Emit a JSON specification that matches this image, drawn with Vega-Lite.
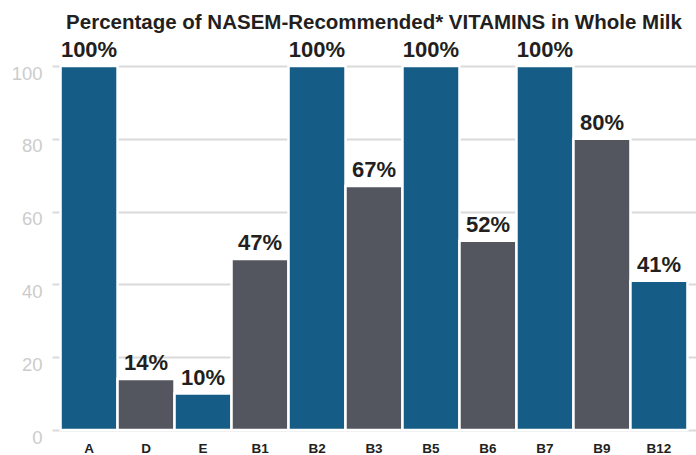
{
  "$schema": "https://vega.github.io/schema/vega-lite/v6.json",
  "autosize": "none",
  "width": 644,
  "height": 364,
  "padding": {"left": 52, "top": 66, "right": 0, "bottom": 25},
  "background": "white",
  "title": {
    "text": "Percentage of NASEM-Recommended* VITAMINS in Whole Milk",
    "font": "Liberation Sans",
    "fontSize": 20.5,
    "fontWeight": "bold",
    "color": "#231f20",
    "anchor": "middle",
    "offset": 6
  },
  "data": {
    "values": [
      {"vitamin": "A", "pct": 100, "group": "blue"},
      {"vitamin": "D", "pct": 14, "group": "gray"},
      {"vitamin": "E", "pct": 10, "group": "blue"},
      {"vitamin": "B1", "pct": 47, "group": "gray"},
      {"vitamin": "B2", "pct": 100, "group": "blue"},
      {"vitamin": "B3", "pct": 67, "group": "gray"},
      {"vitamin": "B5", "pct": 100, "group": "blue"},
      {"vitamin": "B6", "pct": 52, "group": "gray"},
      {"vitamin": "B7", "pct": 100, "group": "blue"},
      {"vitamin": "B9", "pct": 80, "group": "gray"},
      {"vitamin": "B12", "pct": 41, "group": "blue"}
    ]
  },
  "transform": [{"calculate": "datum.pct + '%'", "as": "label"}],
  "encoding": {
    "x": {
      "field": "vitamin",
      "type": "nominal",
      "sort": null,
      "scale": {"paddingInner": 0, "paddingOuter": 0.15, "align": 0.5},
      "axis": {
        "title": null,
        "domain": false,
        "ticks": false,
        "labelAngle": 0,
        "labelFont": "Liberation Sans",
        "labelFontSize": 13.5,
        "labelFontWeight": "bold",
        "labelColor": "#231f20",
        "labelPadding": 11
      }
    },
    "y": {
      "field": "pct",
      "type": "quantitative",
      "scale": {"domain": [0, 100], "nice": false},
      "axis": {
        "title": null,
        "domain": false,
        "ticks": false,
        "values": [0, 20, 40, 60, 80, 100],
        "grid": true,
        "gridColor": "#dadada",
        "gridWidth": 2,
        "labelFont": "Liberation Sans",
        "labelFontSize": 18.5,
        "labelColor": "#cccccc",
        "labelPadding": 10,
        "labelOffset": 7
      }
    }
  },
  "layer": [
    {
      "mark": {"type": "bar", "stroke": "white", "strokeWidth": 2.5},
      "encoding": {
        "color": {
          "field": "group",
          "type": "nominal",
          "scale": {"domain": ["blue", "gray"], "range": ["#155d86", "#53555f"]},
          "legend": null
        }
      }
    },
    {
      "mark": {
        "type": "text",
        "font": "Liberation Sans",
        "fontSize": 22,
        "fontWeight": "bold",
        "color": "#231f20",
        "baseline": "alphabetic",
        "dy": -9
      },
      "encoding": {
        "text": {"field": "label", "type": "nominal"}
      }
    }
  ],
  "config": {"view": {"stroke": null}}
}
